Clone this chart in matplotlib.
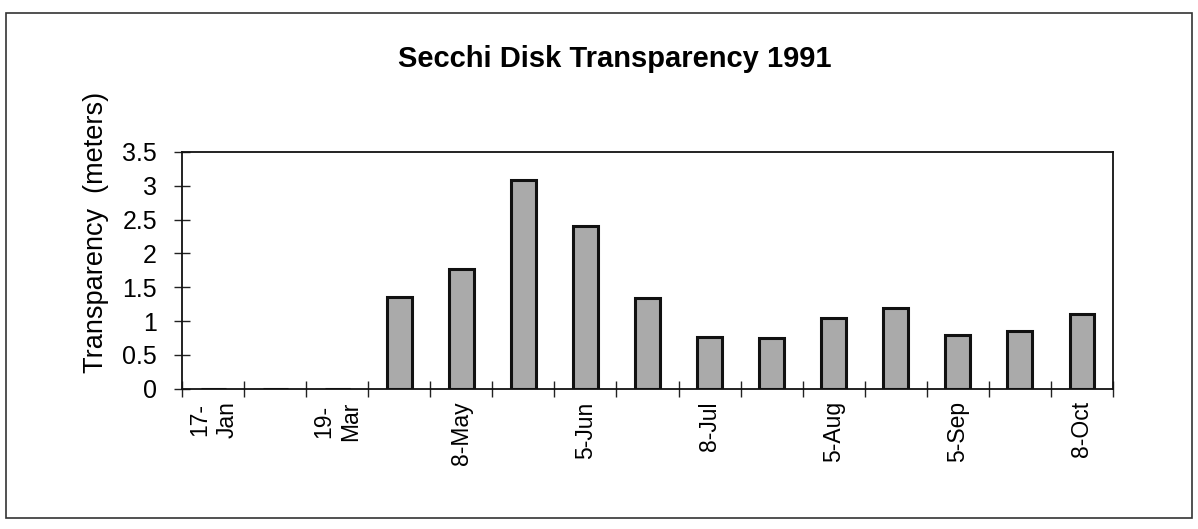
import numpy as np
import matplotlib
matplotlib.use('Agg')
import matplotlib.pyplot as plt
from matplotlib.patches import Rectangle

# sampling dates (only every other one is labelled on the axis)
dates = ['17-\nJan', '', '19-\nMar', '', '8-May', '', '5-Jun', '',
         '8-Jul', '', '5-Aug', '', '5-Sep', '', '8-Oct']
# transparency in meters, NaN where no reading
depth = [np.nan, np.nan, np.nan, 1.36, 1.77, 3.08, 2.41, 1.34,
         0.76, 0.75, 1.04, 1.2, 0.79, 0.85, 1.1]
yticks = [0, 0.5, 1, 1.5, 2, 2.5, 3, 3.5]
yticklabels = ['0', '0.5', '1', '1.5', '2', '2.5', '3', '3.5']

plt.rcParams['font.family'] = ['Liberation Sans', 'DejaVu Sans']

fig = plt.figure(figsize=(11.98, 5.29), dpi=100)
ax = fig.add_axes([0.152, 0.265, 0.777, 0.448])

x = np.arange(len(dates))
ax.bar(x, np.nan_to_num(depth), width=0.4, color='#aaaaaa',
       edgecolor='#111111', linewidth=2.2)

ax.set_xlim(-0.5, len(dates) - 0.5)
ax.set_ylim(0, 3.5)

# tick marks sit on the category boundaries, labels at the centres
ax.set_xticks(np.arange(len(dates) + 1) - 0.5)
ax.set_xticklabels([])
ax.set_xticks(x, minor=True)
ax.set_xticklabels(dates, minor=True, rotation=90, fontsize=16.5,
                   va='top', ha='center', linespacing=1.25)
ax.tick_params(axis='x', which='major', direction='inout', length=12,
               width=1, color='#222222')
ax.tick_params(axis='x', which='minor', length=0, pad=9)

ax.set_yticks(yticks)
ax.set_yticklabels(yticklabels, fontsize=18)
ax.tick_params(axis='y', direction='inout', length=12, width=1,
               color='#222222', pad=12)

for side in ['left', 'bottom', 'top', 'right']:
    ax.spines[side].set_linewidth(1.3)
    ax.spines[side].set_color('#111111')

ax.set_ylabel('Transparency  (meters)', fontsize=19.5, va='center')
ax.yaxis.set_label_coords(-0.092, 0.66)

fig.text(0.513, 0.888, 'Secchi Disk Transparency 1991', fontsize=21,
         fontweight='bold', ha='center', va='center')

# frame around the whole chart
fig.patches.append(Rectangle((0.005, 0.02), 0.99, 0.955,
                             transform=fig.transFigure, fill=False,
                             edgecolor='#333333', linewidth=1.2))

fig.savefig('out.png', dpi=100)
